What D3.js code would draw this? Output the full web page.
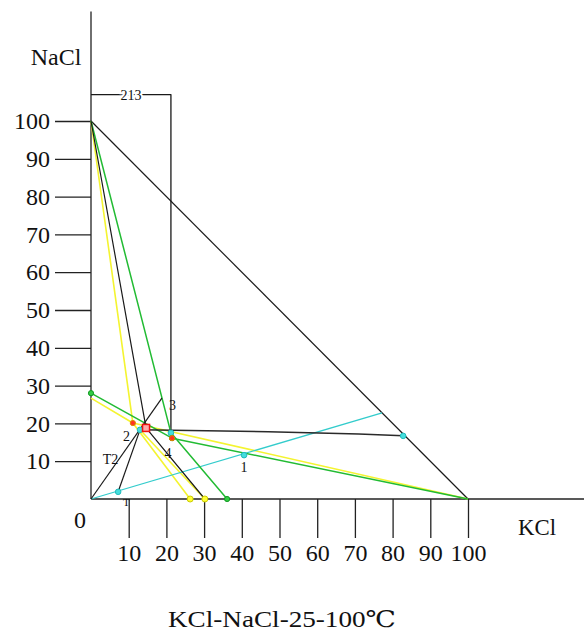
<!DOCTYPE html>
<html><head><meta charset="utf-8">
<script src="https://cdn.jsdelivr.net/npm/d3@7"></script>
<style>
body{margin:0;background:#fff;}
svg text{font-family:"Liberation Serif","DejaVu Serif",serif;fill:#111;}
</style></head>
<body><svg id="c" width="584" height="632"></svg>
<script>
// ---- data (x = KCl, y = NaCl) ----
const xTicks = [10,20,30,40,50,60,70,80,90,100];
const yTicks = [10,20,30,40,50,60,70,80,90,100];
const diagonal      = [[0,100],[100,0]];
const bracket213    = [[0,107],[21.2,107],[21.2,17.5]];
const tieLine       = [[13.0,18.3],[47,17.8],[71,17.2],[82.8,16.7]];
const cyanLine      = [[0,0],[77.2,22.8]];
const greenLow      = [[0,28],[21.5,16.1],[100,0]];
const yellowLow     = [[0,26.7],[11.1,20.1],[100,0]];
const yellowSteep   = [[0,100],[11.1,20.1],[26.3,0]];
const yellowShort   = [[13.0,18.3],[30.2,0]];
const blackSteep    = [[0,100],[14.6,18.8],[30.2,0]];
const greenSteep    = [[0,100],[21.2,17.5],[36.1,0]];
const blackT2       = [[0,0],[18.8,26.7]];
const blackT        = [[7.2,1.9],[13.0,18.3]];
const cyanPts   = [[7.2,1.9],[40.6,11.6],[82.8,16.7],[21.2,17.5],[13.0,18.3]];
const greenPts  = [[0,28],[36.1,0],[21.5,16.1]];
const yellowPts = [[26.3,0],[30.2,0]];
const redPts    = [[11.1,20.1],[21.5,16.1]];
const redSquare = [[14.6,18.8]];
const pointLabels = [
  {t:"1",  p:[40.6,8.4]},
  {t:"2",  p:[9.4,16.6]},
  {t:"3",  p:[21.6,25.0]},
  {t:"4",  p:[20.4,12.2]},
  {t:"T2", p:[5.2,10.6]},
  {t:"T",  p:[9.4,-0.4]}
];
const bracketLabel = {t:"213", p:[10.6,107]};
const xTitle = "KCl", yTitle = "NaCl", chartTitle = "KCl-NaCl-25-100℃";

// ---- drawing ----
const svg = d3.select("#c");
const x = d3.scaleLinear().domain([0,100]).range([91,468]);
const y = d3.scaleLinear().domain([0,100]).range([499,121]);
const line = d3.line().x(d=>x(d[0])).y(d=>y(d[1]));

// axes
const gy = svg.append("g").attr("transform",`translate(${x(0)},0)`)
  .call(d3.axisLeft(y).tickValues(yTicks).tickSize(36).tickPadding(5).tickFormat(d3.format("d")));
const gx = svg.append("g").attr("transform",`translate(0,${y(0)})`)
  .call(d3.axisBottom(x).tickValues(xTicks).tickSize(39).tickPadding(6).tickFormat(d3.format("d")));
[gx,gy].forEach(g=>{
  g.select(".domain").remove();
  g.selectAll(".tick line").attr("stroke","#222").attr("stroke-width",1.3);
  g.selectAll(".tick text").attr("font-size",24).attr("font-family","Liberation Serif").attr("fill","#111");
});
svg.append("line").attr("x1",x(0)).attr("x2",x(0)).attr("y1",y(0)).attr("y2",y(129))
  .attr("stroke","#222").attr("stroke-width",1.3);
svg.append("line").attr("x1",x(0)).attr("x2",x(131)).attr("y1",y(0)).attr("y2",y(0))
  .attr("stroke","#222").attr("stroke-width",1.3);

svg.append("text").attr("x",x(0)-11).attr("y",y(0)+29).attr("text-anchor","middle").attr("font-size",24).text("0");
svg.append("text").attr("x",56).attr("y",65).attr("text-anchor","middle").attr("font-size",24).text(yTitle);
svg.append("text").attr("x",537).attr("y",535).attr("text-anchor","middle").attr("font-size",24)
  .attr("textLength",38).attr("lengthAdjust","spacingAndGlyphs").text(xTitle);
svg.append("text").attr("x",282).attr("y",627).attr("text-anchor","middle").attr("font-size",23)
  .attr("textLength",228).attr("lengthAdjust","spacingAndGlyphs").text(chartTitle);

function path(data,color,w){
  svg.append("path").attr("d",line(data)).attr("fill","none").attr("stroke",color)
    .attr("stroke-width",w).attr("stroke-linejoin","round");
}
path(diagonal,"#1a1a1a",1.2);
path(bracket213,"#1a1a1a",1.3);
path(yellowLow,"#f4f430",1.6);
path(yellowSteep,"#f4f430",1.6);
path(yellowShort,"#f4f430",1.6);
path(cyanLine,"#33cccc",1.3);
path(greenLow,"#22bb33",1.5);
path(greenSteep,"#22bb33",1.5);
path(tieLine,"#2a2a2a",1.5);
path(blackSteep,"#1a1a1a",1.2);
path(blackT2,"#1a1a1a",1.2);
path(blackT,"#1a1a1a",1.2);

function pts(data,fill,stroke,r){
  svg.append("g").selectAll("circle").data(data).join("circle")
    .attr("cx",d=>x(d[0])).attr("cy",d=>y(d[1])).attr("r",r)
    .attr("fill",fill).attr("stroke",stroke).attr("stroke-width",1);
}
pts(cyanPts,"#44dddd","#22bbbb",2.8);
pts(greenPts,"#33cc44","#119922",2.6);
pts(yellowPts,"#ffff33","#cccc00",3);
pts(redPts,"#ff3322","#dd8800",2.6);
svg.append("g").selectAll("rect").data(redSquare).join("rect")
  .attr("x",d=>x(d[0])-3.5).attr("y",d=>y(d[1])-3.5).attr("width",7).attr("height",7)
  .attr("fill","#ffaaaa").attr("stroke","#ee1111").attr("stroke-width",1.5);

svg.append("g").selectAll("text").data(pointLabels).join("text")
  .attr("x",d=>x(d.p[0])).attr("y",d=>y(d.p[1])+5).attr("text-anchor","middle")
  .attr("font-size",d=>d.t==="T"?11:14).attr("fill","#333").text(d=>d.t);
svg.append("text").attr("x",x(bracketLabel.p[0])).attr("y",y(bracketLabel.p[1])+5)
  .attr("text-anchor","middle").attr("font-size",14).attr("fill","#333")
  .attr("stroke","#fff").attr("stroke-width",4).attr("paint-order","stroke").text(bracketLabel.t);
</script></body></html>
